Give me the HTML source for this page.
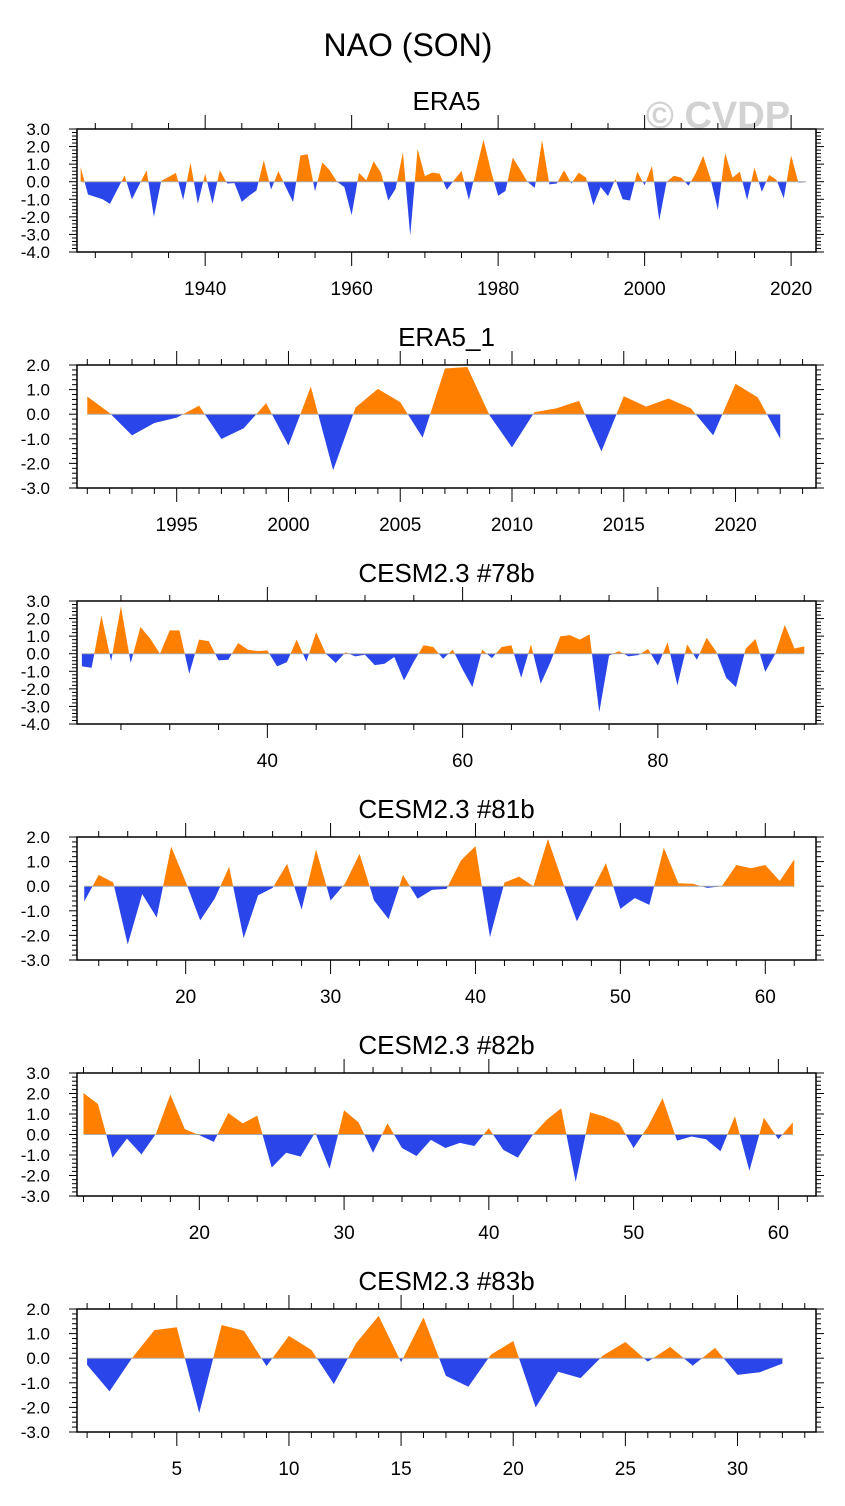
<!DOCTYPE html>
<html><head><meta charset="utf-8"><title>NAO (SON)</title>
<style>
html,body{margin:0;padding:0;background:#fff;}
svg{display:block;font-family:"Liberation Sans",Arial,sans-serif;}
</style></head>
<body>
<svg id="chart" width="845" height="1506" viewBox="0 0 845 1506" xmlns="http://www.w3.org/2000/svg">
<text x="718" y="128" text-anchor="middle" font-size="38" font-weight="bold" fill="#d2d2d2">© CVDP</text>
<text x="408" y="56" text-anchor="middle" font-size="32">NAO (SON)</text>
<g id="panels"></g>
</svg>
<script>
// ---- data ----
const era5Start = 1923;
const era5Values = [0.84,-0.73,-0.86,-1.0,-1.26,-0.45,0.36,-1.0,-0.17,0.65,-2.0,0.05,0.27,0.5,-1.03,1.07,-1.26,0.46,-1.26,0.65,-0.1,-0.08,-1.15,-0.8,-0.5,1.22,-0.44,0.6,-0.3,-1.16,1.49,1.56,-0.55,1.1,0.65,0.0,-0.3,-1.9,0.5,0.08,1.16,0.52,-1.07,-0.4,1.68,-3.07,1.87,0.32,0.52,0.46,-0.46,0.1,0.62,-1.03,0.65,2.4,0.65,-0.8,-0.53,1.37,0.7,0.0,-0.35,2.37,-0.15,-0.1,0.65,-0.1,0.52,0.23,-1.34,-0.3,-0.82,0.15,-1.0,-1.07,0.57,-0.2,0.9,-2.2,0.0,0.34,0.23,-0.23,0.5,1.47,0.17,-1.6,1.64,0.23,0.57,-1.03,0.8,-0.57,0.38,0.11,-0.95,1.5,-0.05,-0.02];
const era5Ticks = [1940,1960,1980,2000,2020];

const era51Start = 1991;
const era51Values = [0.72,0.05,-0.86,-0.36,-0.14,0.35,-1.01,-0.57,0.45,-1.27,1.12,-2.28,0.27,1.03,0.49,-0.95,1.86,1.92,-0.05,-1.35,0.08,0.24,0.54,-1.51,0.73,0.31,0.64,0.24,-0.86,1.24,0.68,-1.0];
const era51Ticks = [1995,2000,2005,2010,2015,2020];

const c78Start = 21;
const c78Values = [-0.72,-0.8,2.17,-0.42,2.7,-0.53,1.52,0.86,0.0,1.33,1.33,-1.14,0.8,0.72,-0.38,-0.34,0.61,0.23,0.15,0.19,-0.72,-0.48,0.8,-0.44,1.22,0.0,-0.53,0.08,-0.15,-0.06,-0.65,-0.57,-0.19,-1.52,-0.45,0.48,0.38,-0.29,0.23,-0.9,-1.9,0.23,-0.25,0.38,0.48,-1.37,0.53,-1.71,-0.48,0.99,1.06,0.8,1.1,-3.33,-0.11,0.15,-0.15,-0.08,0.27,-0.67,0.65,-1.8,0.53,-0.34,0.91,0.1,-1.37,-1.9,0.29,0.84,-1.03,-0.04,1.64,0.3,0.42];
const c78Ticks = [40,60,80];

const c81Start = 13;
const c81Values = [-0.62,0.46,0.15,-2.37,-0.32,-1.27,1.61,0.18,-1.39,-0.51,0.79,-2.11,-0.37,-0.07,0.91,-0.95,1.49,-0.58,0.11,1.32,-0.58,-1.34,0.46,-0.51,-0.15,-0.11,1.05,1.63,-2.07,0.15,0.39,0.0,1.92,0.2,-1.43,-0.23,0.94,-0.92,-0.48,-0.76,1.56,0.12,0.1,-0.07,0.0,0.86,0.73,0.86,0.21,1.09];
const c81Ticks = [20,30,40,50,60];

const c82Start = 12;
const c82Values = [2.02,1.49,-1.13,-0.2,-0.97,0.03,1.95,0.26,-0.03,-0.36,1.05,0.54,0.92,-1.61,-0.89,-1.08,0.1,-1.67,1.18,0.59,-0.89,0.54,-0.66,-1.05,-0.26,-0.66,-0.41,-0.56,0.31,-0.75,-1.13,-0.05,0.72,1.28,-2.31,1.08,0.87,0.56,-0.66,0.4,1.77,-0.3,-0.1,-0.23,-0.82,0.89,-1.77,0.82,-0.23,0.59];
const c82Ticks = [20,30,40,50,60];

const c83Start = 1;
const c83Values = [-0.27,-1.35,0.0,1.14,1.26,-2.23,1.35,1.11,-0.32,0.91,0.34,-1.05,0.62,1.72,-0.16,1.66,-0.72,-1.16,0.14,0.7,-2.0,-0.55,-0.81,0.11,0.66,-0.14,0.46,-0.3,0.42,-0.68,-0.57,-0.22];
const c83Ticks = [5,10,15,20,25,30];

// ---- layout ----
const NS = "http://www.w3.org/2000/svg";
const BOX_L = 77, BOX_R = 816, BOX_H = 123;
const panels = [
  {name:"era5", title:"ERA5", top:129, ymin:-4, ymax:3, xmin:1922.5, xmax:2023.4, start:era5Start, vals:era5Values, ticks:era5Ticks, minor:5},
  {name:"era5-1", title:"ERA5_1", top:365, ymin:-3, ymax:2, xmin:1990.54, xmax:2023.6, start:era51Start, vals:era51Values, ticks:era51Ticks, minor:1},
  {name:"cesm-78b", title:"CESM2.3 #78b", top:601, ymin:-4, ymax:3, xmin:20.5, xmax:96.2, start:c78Start, vals:c78Values, ticks:c78Ticks, minor:5},
  {name:"cesm-81b", title:"CESM2.3 #81b", top:837, ymin:-3, ymax:2, xmin:12.5, xmax:63.5, start:c81Start, vals:c81Values, ticks:c81Ticks, minor:2},
  {name:"cesm-82b", title:"CESM2.3 #82b", top:1073, ymin:-3, ymax:3, xmin:11.55, xmax:62.6, start:c82Start, vals:c82Values, ticks:c82Ticks, minor:2},
  {name:"cesm-83b", title:"CESM2.3 #83b", top:1309, ymin:-3, ymax:2, xmin:0.55, xmax:33.5, start:c83Start, vals:c83Values, ticks:c83Ticks, minor:1}
];
const root = document.getElementById("panels");
function mk(tag, attrs, parent){
  const e = document.createElementNS(NS, tag);
  for (const k in attrs) e.setAttribute(k, attrs[k]);
  (parent||root).appendChild(e);
  return e;
}
panels.forEach(p => {
  const g = mk("g", {});
  
  
  const top = p.top, bot = p.top + BOX_H;
  const xs = v => BOX_L + (v - p.xmin) / (p.xmax - p.xmin) * (BOX_R - BOX_L);
  const ys = v => bot - (v - p.ymin) / (p.ymax - p.ymin) * BOX_H;
  const y0 = ys(0);
  const pts = p.vals.map((v, i) => [xs(p.start + i), ys(v), v]);
  function poly(sign){
    let d = "M" + pts[0][0] + "," + y0;
    for (let i = 0; i < pts.length; i++){
      const [x, y, v] = pts[i];
      if (i > 0){
        const [px, py, pv] = pts[i-1];
        if ((pv > 0 && v < 0) || (pv < 0 && v > 0)){
          const t = pv / (pv - v);
          d += " L" + (px + t * (x - px)) + "," + y0;
        }
      }
      const vv = sign > 0 ? Math.max(v, 0) : Math.min(v, 0);
      d += " L" + x + "," + ys(vv);
    }
    d += " L" + pts[pts.length-1][0] + "," + y0 + " Z";
    return d;
  }
  const pos = mk("path", {d: poly(1), fill: "#ff8000", stroke: "none"}, g);
  
  
  const neg = mk("path", {d: poly(-1), fill: "#2a45ea", stroke: "none"}, g);
  
  
  const zl = mk("line", {x1: pts[0][0], x2: pts[pts.length-1][0], y1: y0, y2: y0, stroke: "#aaaaaa", "stroke-width": 1}, g);
  
  
  const fr = mk("rect", {x: BOX_L, y: top, width: BOX_R - BOX_L, height: BOX_H, fill: "none", stroke: "#000", "stroke-width": 1.5}, g);
  
  
  for (let k = 0; k <= (p.ymax - p.ymin) * 5; k++){
    const v = p.ymin + k * 0.2;
    const y = ys(v);
    const major = k % 5 === 0;
    const len = major ? 8 : 5;
    mk("line", {x1: BOX_L - len, x2: BOX_L, y1: y, y2: y, stroke: "#000", "stroke-width": 1}, g);
    mk("line", {x1: BOX_R, x2: BOX_R + len, y1: y, y2: y, stroke: "#000", "stroke-width": 1}, g);
    if (major){
      const t = mk("text", {x: 50, y: y + 6, "text-anchor": "end", "font-size": 17}, g);
      
      
      t.textContent = v.toFixed(1);
    }
  }
  const first = Math.ceil(p.xmin / p.minor) * p.minor;
  const majorStep = p.ticks[1] - p.ticks[0];
  for (let v = first; v <= p.xmax; v += p.minor){
    const x = xs(v);
    const major = Math.abs(((v - p.ticks[0]) % majorStep + majorStep) % majorStep) < 1e-6;
    const len = major ? 14 : 6;
    mk("line", {x1: x, x2: x, y1: bot, y2: bot + len, stroke: "#000", "stroke-width": 1}, g);
    mk("line", {x1: x, x2: x, y1: top - len, y2: top, stroke: "#000", "stroke-width": 1}, g);
  }
  p.ticks.forEach(v => {
    const t = mk("text", {x: xs(v), y: bot + 43, "text-anchor": "middle", "font-size": 19}, g);
    
    
    t.textContent = v;
  });
  const tt = mk("text", {x: (BOX_L + BOX_R) / 2, y: top - 19, "text-anchor": "middle", "font-size": 26}, g);
  
  
  tt.textContent = p.title;
});
</script>
</body></html>
